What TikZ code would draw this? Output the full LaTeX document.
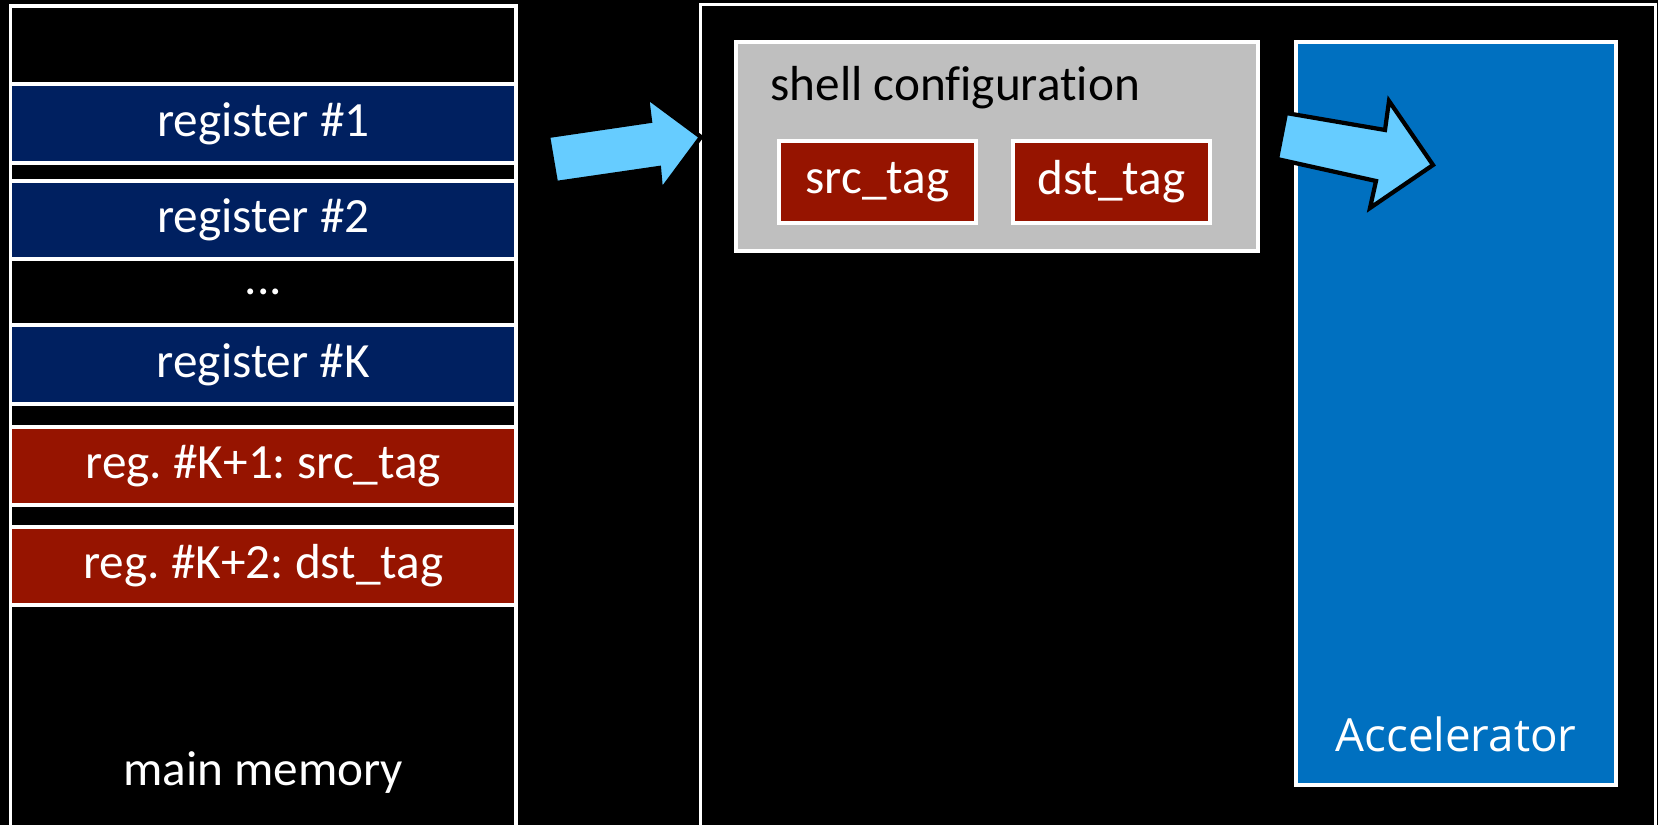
\documentclass[tikz,border=0pt]{standalone}
\usepackage{fontspec}
\setmainfont{Carlito}[Ligatures=NoCommon]
\newfontfamily\accfont{Open Sans}
\frenchspacing
\definecolor{regblue}{RGB}{0,32,96}
\definecolor{tagred}{RGB}{150,20,0}
\definecolor{shellgray}{RGB}{191,191,191}
\definecolor{accblue}{RGB}{0,112,192}
\definecolor{flowcyan}{RGB}{102,204,255}
\tikzset{
  frame/.style={draw=white, line width=1pt, inner sep=0pt},
  cell/.style={frame, minimum width=5.055cm, text=white,
    font=\fontsize{14}{16}\selectfont},
  tagbox/.style={frame, fill=tagred, minimum width=1.97cm, minimum height=0.82cm,
    text=white, font=\fontsize{14}{16}\selectfont},
  blockarrow/.style={fill=flowcyan, draw=black, line width=1.2pt, line join=miter}
}
\begin{document}
\begin{tikzpicture}[x=0.01cm, y=-0.01cm]
    \useasboundingbox (0,0) rectangle (1658,825);
    \fill[black] (0,0) rectangle (1658,825);
    \clip (0,0) rectangle (1658,825);
    \node[cell, minimum height=8.6cm] (mem) at (263.3,436) {};
    \node[cell, minimum height=0.78cm] (row0) at (263.3,45) {};
    \node[cell, fill=regblue, minimum height=0.79cm] (reg1) at (263.3,123.5) {register \#1};
    \node[cell, minimum height=0.18cm] (gapA) at (263.3,172) {};
    \node[cell, fill=regblue, minimum height=0.78cm] (reg2) at (263.3,220) {register \#2};
    \node[cell, minimum height=0.66cm] (dots) at (263.3,292) {.{}.{}.};
    \node[cell, fill=regblue, minimum height=0.79cm] (regK) at (263.3,364.5) {register \#K};
    \node[cell, minimum height=0.23cm] (gapB) at (263.3,415.5) {};
    \node[cell, fill=tagred, minimum height=0.78cm] (regKa) at (263.3,466) {reg. \#K+1: src\_tag};
    \node[cell, minimum height=0.22cm] (gapC) at (263.3,516) {};
    \node[cell, fill=tagred, minimum height=0.78cm] (regKb) at (263.3,566) {reg. \#K+2: dst\_tag};
    \node[text=white, font=\fontsize{14}{16}\selectfont, anchor=base] (memlabel) at (263.3,785) {main memory};
    \node[frame, minimum width=9.54cm, minimum height=8.6cm] (device) at (1178,435) {};
    \node[frame, fill=shellgray, minimum width=5.22cm, minimum height=2.09cm] (shell) at (997,146.5) {};
    \node[anchor=base west, font=\fontsize{14}{16}\selectfont] (shelllabel) at (758,101) {shell configuration};
    \node[tagbox] (srctag) at (877.5,182) {src\_tag};
    \node[tagbox] (dsttag) at (1111.5,182) {dst\_tag};
    \node[frame, fill=accblue, minimum width=3.2cm, minimum height=7.43cm] (accel) at (1456,413.5) {};
    \node[anchor=base, text=white, font=\accfont\fontsize{13}{15}\selectfont] (acclabel) at (1456,751) {Accelerator};
    \draw[blockarrow] (548,136) -- (650,121) -- (647,97) -- (701,137) -- (661,191) -- (659,168) -- (556,183) -- cycle;
    \draw[blockarrow] (1286,113) -- (1385,130) -- (1389,101) -- (1433,165) -- (1370,208) -- (1376,181) -- (1277,159) -- cycle;
\end{tikzpicture}
\end{document}
